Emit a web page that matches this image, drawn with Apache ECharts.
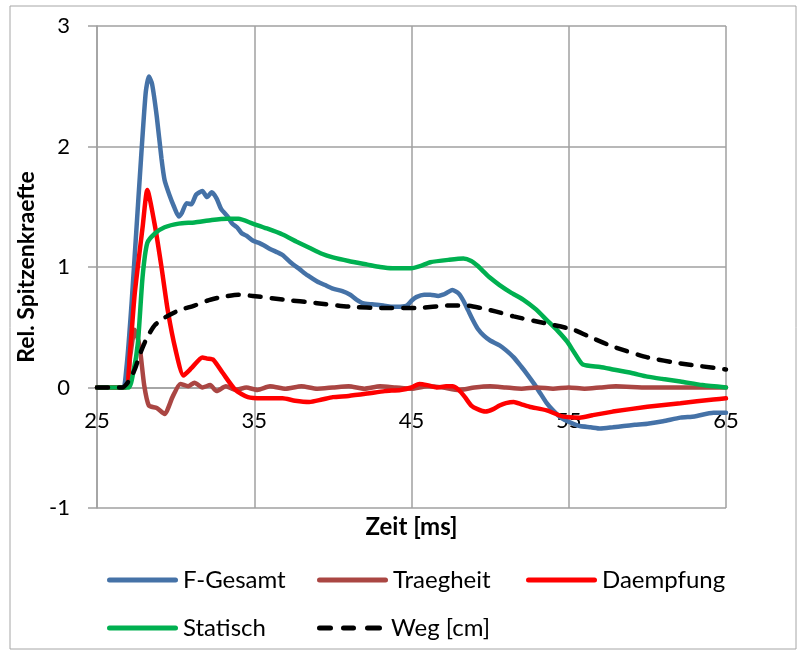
<!DOCTYPE html>
<html>
<head>
<meta charset="utf-8">
<script src="https://cdn.jsdelivr.net/npm/echarts@6/dist/echarts.min.js"></script>
<style>
  html, body { margin: 0; padding: 0; background: #fff; }
  #app { width: 800px; height: 655px; }
</style>
</head>
<body>
<div id="app"></div>
<script>
// Zeit [ms] / Wert Paare
var fGesamt = [[25,0],[26.6,0],[26.9,0.2],[27.2,0.7],[27.5,1.3],[27.8,1.9],[28.1,2.45],[28.3,2.58],[28.5,2.52],
  [28.8,2.25],[29.1,1.9],[29.3,1.72],[29.6,1.6],[29.9,1.5],[30.2,1.42],[30.4,1.45],[30.7,1.53],[31.0,1.52],
  [31.3,1.6],[31.7,1.63],[32.0,1.58],[32.3,1.62],[32.6,1.57],[32.9,1.48],[33.3,1.42],[33.6,1.36],[33.9,1.33],
  [34.2,1.28],[34.5,1.26],[34.9,1.22],[35.3,1.2],[35.6,1.18],[36.0,1.15],[36.5,1.12],[36.8,1.1],[37.3,1.04],
  [37.9,0.98],[38.4,0.93],[39.0,0.88],[39.5,0.85],[40.0,0.82],[40.6,0.8],[41.1,0.77],[41.5,0.73],[41.9,0.7],
  [42.5,0.69],[43.2,0.68],[43.7,0.67],[44.1,0.67],[44.7,0.68],[45.0,0.72],[45.3,0.75],[45.8,0.77],[46.2,0.77],
  [46.7,0.76],[47.0,0.77],[47.3,0.79],[47.6,0.81],[48.0,0.78],[48.3,0.72],[48.6,0.64],[48.9,0.56],[49.2,0.49],
  [49.6,0.43],[50.0,0.39],[50.6,0.35],[51.0,0.31],[51.5,0.25],[52.0,0.17],[52.3,0.12],[52.8,0.03],[53.2,-0.05],
  [53.6,-0.13],[54.0,-0.19],[54.5,-0.25],[55.1,-0.29],[55.7,-0.32],[56.4,-0.33],[57.0,-0.34],[57.8,-0.33],
  [58.5,-0.32],[59.2,-0.31],[60.0,-0.3],[61.0,-0.28],[62.1,-0.25],[63.0,-0.24],[64.2,-0.21],[65,-0.21]];

var traegheit = [[25,0],[26.8,0],[27.1,0.25],[27.4,0.48],[27.7,0.35],[28.0,0.02],[28.3,-0.15],[28.8,-0.17],
  [29.3,-0.22],[29.8,-0.08],[30.3,0.03],[30.8,0.01],[31.2,0.04],[31.7,0.0],[32.2,0.02],[32.6,-0.03],[33.2,0.01],
  [33.8,-0.02],[34.5,0.0],[35.2,-0.02],[36.0,0.01],[37.0,-0.01],[38.0,0.01],[39.0,-0.01],[40.0,0.0],[41.0,0.01],
  [42.0,-0.01],[43.0,0.01],[44.0,0.0],[45.0,-0.01],[46.0,0.01],[47.0,0.0],[48.0,-0.02],[49.0,0.0],[50.0,0.01],
  [51.0,0.0],[52.0,-0.01],[53.0,0.0],[54.0,-0.01],[55.0,0.0],[56.0,-0.01],[57.0,0.0],[58.0,0.01],[60.0,0.0],
  [62.0,0.0],[65,0.0]];

var daempfung = [[25,0],[26.8,0],[27.1,0.3],[27.4,0.78],[27.9,1.33],[28.2,1.64],[28.7,1.33],[29.1,1.0],
  [29.5,0.64],[30.0,0.31],[30.5,0.1],[31.0,0.16],[31.7,0.25],[32.0,0.24],[32.4,0.23],[33.0,0.12],[33.8,-0.02],
  [34.6,-0.08],[35.5,-0.09],[36.8,-0.09],[37.6,-0.11],[38.5,-0.12],[39.3,-0.1],[40.0,-0.08],[41.0,-0.07],
  [42.2,-0.05],[43.3,-0.03],[44.3,-0.02],[45.0,0.0],[45.5,0.03],[46.0,0.02],[46.6,0.0],[47.2,0.01],[47.6,0.01],
  [48.0,-0.02],[48.4,-0.08],[48.8,-0.15],[49.2,-0.18],[49.7,-0.2],[50.2,-0.18],[50.6,-0.15],[51.0,-0.13],
  [51.5,-0.12],[52.0,-0.14],[52.5,-0.16],[53.6,-0.19],[54.6,-0.24],[55.7,-0.25],[56.5,-0.23],[57.8,-0.2],
  [60.0,-0.16],[62.1,-0.13],[64.2,-0.1],[65,-0.09]];

var statisch = [[25,0],[27.0,0],[27.3,0.12],[27.6,0.37],[27.9,0.92],[28.2,1.2],[28.7,1.28],[29.3,1.33],
  [30.2,1.36],[31.2,1.37],[32.3,1.39],[33.3,1.4],[34.0,1.4],[34.9,1.36],[35.8,1.32],[36.8,1.27],[37.7,1.21],
  [38.5,1.16],[39.3,1.11],[40.0,1.08],[41.0,1.05],[42.2,1.02],[43.0,1.0],[43.8,0.99],[45.0,0.99],[45.6,1.01],
  [46.2,1.04],[47.4,1.06],[48.3,1.07],[48.8,1.05],[49.2,1.01],[49.6,0.96],[50.0,0.91],[50.6,0.85],[51.3,0.79],
  [52.1,0.73],[52.9,0.65],[53.6,0.56],[54.3,0.47],[54.9,0.38],[55.4,0.28],[55.9,0.19],[57.0,0.17],[57.8,0.15],
  [59.0,0.12],[60.0,0.09],[61.0,0.07],[62.1,0.05],[63.5,0.02],[65,0.0]];

var weg = [[25,0],[26.6,0],[27.0,0.05],[27.4,0.15],[27.8,0.3],[28.2,0.42],[28.7,0.52],[29.3,0.58],[30.2,0.64],
  [31.2,0.68],[32.0,0.72],[32.9,0.75],[34.0,0.77],[34.9,0.76],[36.8,0.73],[39.0,0.7],[41.1,0.67],[43.2,0.66],
  [45.3,0.66],[47.4,0.68],[48.5,0.68],[49.4,0.66],[50.4,0.63],[51.5,0.59],[53.6,0.53],[55.3,0.48],[56.5,0.41],
  [57.8,0.34],[60.0,0.25],[62.1,0.2],[65,0.15]];

var seriesNames = ['F-Gesamt', 'Traegheit', 'Daempfung', 'Statisch', 'Weg [cm]'];
var seriesColors = ['#4572a7', '#aa4643', '#ff0000', '#00b050', '#000000'];
var seriesData = [fGesamt, traegheit, daempfung, statisch, weg];

var font = 'Lato';
var gridColor = '#a0a0a0';

// Legendenpositionen (Spalten wie in Excel)
var legendLeft = [102, 312, 521, 102, 312];
var legendTop = [563, 563, 563, 611, 611];
var solidIcon = 'path://M2.5,0h66a2.5,2.5 0 0 1 0,5h-66a2.5,2.5 0 0 1 0,-5z';
var dashIcon = 'path://M2.5,0h11a2.5,2.5 0 0 1 0,5h-11a2.5,2.5 0 0 1 0,-5z' +
  'M26.5,0h10a2.5,2.5 0 0 1 0,5h-10a2.5,2.5 0 0 1 0,-5z' +
  'M50.5,0h12a2.5,2.5 0 0 1 0,5h-12a2.5,2.5 0 0 1 0,-5z';

var myChart = echarts.init(document.getElementById('app'));

var series = seriesNames.map(function (name, i) {
    return {
        name: name,
        type: 'line',
        data: seriesData[i],
        showSymbol: false,
        symbol: 'none',
        smooth: 0.2,
        lineStyle: {
            color: seriesColors[i],
            width: 4.5,
            type: i === 4 ? [11, 11] : 'solid',
            cap: 'round'
        },
        itemStyle: { color: seriesColors[i] }
    };
});

var legends = seriesNames.map(function (name, i) {
    return {
        data: [{ name: name, icon: i === 4 ? dashIcon : solidIcon }],
        left: legendLeft[i], top: legendTop[i],
        selectedMode: false,
        itemWidth: i === 4 ? 65 : 71, itemHeight: 5,
        textStyle: { fontFamily: font, fontSize: 24, color: '#000', padding: [0, 0, 0, i === 4 ? 4 : 0] }
    };
});

var option = {
    animation: false,
    backgroundColor: '#fff',
    graphic: [{
        type: 'rect',
        shape: { x: 10, y: 6, width: 786, height: 643 },
        style: { fill: 'none', stroke: '#a6a6a6', lineWidth: 1 },
        z: -1
    }],
    grid: { left: 97, right: 74, top: 26, bottom: 147 },
    legend: legends,
    xAxis: {
        type: 'value',
        min: 25, max: 65, interval: 10,
        offset: -120.5,
        name: 'Zeit [ms]',
        nameLocation: 'middle',
        nameGap: 128,
        nameTextStyle: { fontFamily: font, fontSize: 24, fontWeight: 'bold', color: '#000' },
        axisLine: { onZero: false, lineStyle: { color: gridColor, width: 1.5 } },
        axisTick: { show: false },
        axisLabel: { fontFamily: font, fontSize: 22, color: '#000', margin: 22 },
        splitLine: { show: true, lineStyle: { color: gridColor, width: 1.5 } }
    },
    yAxis: {
        type: 'value',
        min: -1, max: 3, interval: 1,
        name: 'Rel. Spitzenkraefte',
        nameLocation: 'middle',
        nameGap: 48,
        nameTextStyle: { fontFamily: font, fontSize: 23, fontWeight: 'bold', color: '#000' },
        axisLine: { show: true, lineStyle: { color: gridColor, width: 1.5 } },
        axisTick: { show: true, length: 9, lineStyle: { color: gridColor, width: 1.5 } },
        axisLabel: { fontFamily: font, fontSize: 22, color: '#000', margin: 27 },
        splitLine: { show: true, lineStyle: { color: gridColor, width: 1.5 } }
    },
    series: series
};
myChart.setOption(option);
</script>
</body>
</html>
